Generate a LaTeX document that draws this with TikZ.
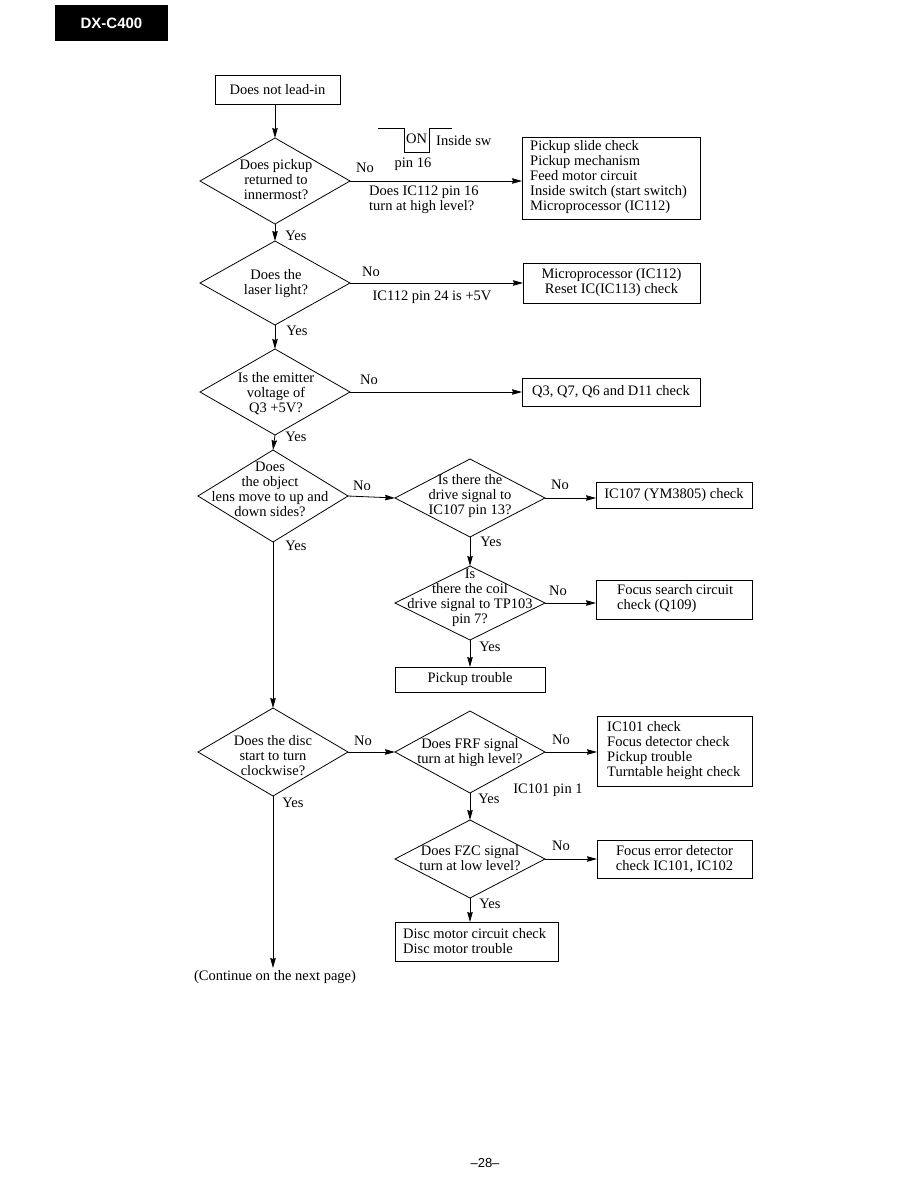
\documentclass[tikz,border=0pt]{standalone}
\usepackage{fontspec}
\setmainfont{Liberation Serif}
\setsansfont{Liberation Sans}
\usetikzlibrary{shapes.geometric,arrows.meta}
\begin{document}
\begin{tikzpicture}[x=1pt,y=-1pt,
  txt/.style={font=\fontsize{14.5}{15}\selectfont, align=center, inner sep=0},
  lbl/.style={font=\fontsize{14.5}{15}\selectfont, inner sep=0},
  ltxt/.style={font=\fontsize{14.5}{15}\selectfont, inner sep=0, align=left, anchor=west},
  box/.style={draw, line width=0.8pt, inner sep=0, outer sep=0, font=\fontsize{14.5}{15}\selectfont, align=center},
  dia/.style={draw, diamond, line width=0.8pt, inner sep=0, outer sep=0, minimum width=150pt},
  arr/.style={-{Stealth[length=10pt,width=5.5pt,inset=1pt]}, line width=0.8pt},
  ln/.style={line width=0.8pt}]
\useasboundingbox (0,0) rectangle (918,1188);
% header
\node[fill=black, minimum width=113pt, minimum height=36pt, inner sep=0, text=white, font=\sffamily\bfseries\fontsize{15}{15}\selectfont] (hdr) at (111.5,23) {DX-C400};
\node[font=\sffamily\fontsize{13}{13}\selectfont, inner sep=0] (pg) at (485,1163) {--28--};

% boxes
\node[box, minimum width=125pt, minimum height=29pt] (b0) at (277.5,90) {Does not lead-in};
\node[box, minimum width=178pt, minimum height=82pt] (b1) at (611,178) {};
\node[ltxt] (b1t) at (530,177) {Pickup slide check\\Pickup mechanism\\Feed motor circuit\\Inside switch (start switch)\\Microprocessor (IC112)};
\node[box, minimum width=177pt, minimum height=40pt] (b2) at (611.5,283) {Microprocessor (IC112)\\Reset IC(IC113) check};
\node[box, minimum width=178pt, minimum height=28pt] (b3) at (611,392) {Q3, Q7, Q6 and D11 check};
\node[box, minimum width=156pt, minimum height=26pt] (b5) at (674,495) {IC107 (YM3805) check};
\node[box, minimum width=156pt, minimum height=39pt] (b6) at (674,599.5) {};
\node[ltxt] (b6t) at (617,599) {Focus search circuit\\check (Q109)};
\node[box, minimum width=150pt, minimum height=25pt] (b7) at (470,679.5) {Pickup trouble};
\node[box, minimum width=155pt, minimum height=70pt] (b8) at (674.5,751) {};
\node[ltxt] (b8t) at (607,750.5) {IC101 check\\Focus detector check\\Pickup trouble\\Turntable height check};
\node[box, minimum width=155pt, minimum height=38pt] (b9) at (674.5,859) {Focus error detector\\check IC101, IC102};
\node[box, minimum width=163pt, minimum height=39pt] (b10) at (476.5,941.5) {};
\node[ltxt] (b10t) at (403,941.5) {Disc motor circuit check\\Disc motor trouble};

% diamonds
\node[dia, minimum height=86pt] (d1) at (275,181) {};
\node[dia, minimum height=84pt] (d2) at (275,283) {};
\node[dia, minimum height=86pt] (d3) at (275,392) {};
\node[dia, minimum height=92pt] (d4) at (273,496) {};
\node[dia, minimum height=78pt] (d5) at (470,498) {};
\node[dia, minimum height=74pt] (d6) at (470,603) {};
\node[dia, minimum height=88pt] (d7) at (273,752) {};
\node[dia, minimum height=82pt] (d8) at (470,752) {};
\node[dia, minimum height=78pt] (d9) at (470,859) {};

% diamond texts
\node[txt] (t1) at (276,180) {Does pickup\\returned to\\innermost?};
\node[txt] (t2) at (276,283.5) {Does the\\laser light?};
\node[txt] (t3) at (276,394) {Is the emitter\\voltage of\\Q3 +5V?};
\node[txt] (t4) at (270,489) {Does\\the object\\lens move to up and\\down sides?};
\node[txt] (t5) at (470,496) {Is there the\\drive signal to\\IC107 pin 13?};
\node[txt] (t6) at (470,598) {Is\\there the coil\\drive signal to TP103\\pin 7?};
\node[txt] (t7) at (273,756) {Does the disc\\start to turn\\clockwise?};
\node[txt] (t8) at (470,752.5) {Does FRF signal\\turn at high level?};
\node[txt] (t9) at (470,858) {Does FZC signal\\turn at low level?};

% connectors
\draw[arr] (d1.north |- b0.south) -- (d1.north);
\draw[arr] (d1.east) -- (d1.east -| b1.west);
\draw[arr] (d1.south) -- (d2.north);
\draw[arr] (d2.east) -- (d2.east -| b2.west);
\draw[arr] (d2.south) -- (d3.north);
\draw[arr] (d3.east) -- (d3.east -| b3.west);
\draw[arr] (d3.south) -- (d4.north);
\draw[arr] (d4.east) -- (d5.west);
\draw[arr] (d5.east) -- (d5.east -| b5.west);
\draw[arr] (d5.south) -- (d6.north);
\draw[arr] (d6.east) -- (d6.east -| b6.west);
\draw[arr] (d6.south) -- (d6.south |- b7.north);
\draw[arr] (d4.south) -- (d7.north);
\draw[arr] (d7.east) -- (d8.west);
\draw[arr] (d8.east) -- (d8.east -| b8.west);
\draw[arr] (d8.south) -- (d9.north);
\draw[arr] (d9.east) -- (d9.east -| b9.west);
\draw[arr] (d9.south) -- (d9.south |- b10.north);
\coordinate (cont) at (273,968);
\draw[arr] (d7.south) -- (cont);

% switch waveform
\draw[ln] (378,128) -- (404,128) -- (404,152) -- (429,152) -- (429,128) -- (452,128);
\node[lbl] (on) at (416.5,139) {ON};
\node[lbl, anchor=west] (insw) at (436,141) {Inside sw};

% labels
\node[lbl] (n1) at (365,168) {No};
\node[lbl] (p16) at (413,164) {pin 16};
\node[lbl, anchor=west, align=left] (q1) at (369,199.5) {Does IC112 pin 16\\turn at high level?};
\node[lbl] (y1) at (296,236) {Yes};
\node[lbl] (n2) at (371,272) {No};
\node[lbl] (q2) at (432,297) {IC112 pin 24 is +5V};
\node[lbl] (y2) at (297,331) {Yes};
\node[lbl] (n3) at (369,380) {No};
\node[lbl] (y3) at (296,437) {Yes};
\node[lbl] (n4) at (362,486) {No};
\node[lbl] (y4) at (296,546) {Yes};
\node[lbl] (n5) at (560,485) {No};
\node[lbl] (y5) at (491,542) {Yes};
\node[lbl] (n6) at (558,591) {No};
\node[lbl] (y6) at (490,647) {Yes};
\node[lbl] (n7) at (363,741) {No};
\node[lbl] (n8) at (561,740) {No};
\node[lbl] (q8) at (548,790) {IC101 pin 1};
\node[lbl] (y8) at (489,799) {Yes};
\node[lbl] (y7) at (293,803) {Yes};
\node[lbl] (n9) at (561,846) {No};
\node[lbl] (y9) at (490,904) {Yes};
\node[lbl] (ct) at (275,977) {(Continue on the next page)};
\end{tikzpicture}
\end{document}
